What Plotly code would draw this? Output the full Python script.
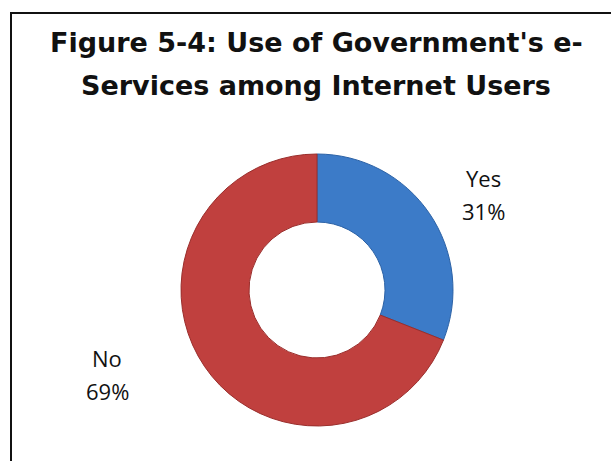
import plotly.graph_objects as go

# ---- data ----
categories = ["Yes", "No"]
values = [31, 69]
colors = ["#3C7BC8", "#C0403E"]
edge_colors = ["#2C62A6", "#9A2E2C"]
title_lines = ["Figure 5-4: Use of Government's e-", "Services among Internet Users"]

W, H = 611, 461
total = sum(values)
pcts = [f"{round(v / total * 100)}%" for v in values]

fig = go.Figure()
fig.add_trace(go.Pie(
    labels=categories,
    values=values,
    hole=0.5,
    sort=False,
    direction="clockwise",
    rotation=0,
    marker=dict(colors=colors, line=dict(color=edge_colors, width=1)),
    textinfo="none",
    hoverinfo="label+percent",
    showlegend=False,
    domain=dict(x=[181 / W, 453 / W], y=[1 - 426 / H, 1 - 154 / H]),
))

annotations = []
# title (two lines)
title_y = [42, 85]
for line, ty in zip(title_lines, title_y):
    annotations.append(dict(
        text=f"<b>{line}</b>", x=316 / W, y=1 - ty / H, xref="paper", yref="paper",
        xanchor="center", yanchor="middle", showarrow=False,
        font=dict(family="DejaVu Sans", size=27, color="#111111"),
    ))

# data labels
label_pos = {"Yes": (483, 178, 211), "No": (107, 358, 391)}
for cat, pct in zip(categories, pcts):
    lx, ly1, ly2 = label_pos[cat]
    for txt, ly in ((cat, ly1), (pct, ly2)):
        annotations.append(dict(
            text=txt, x=lx / W, y=1 - ly / H, xref="paper", yref="paper",
            xanchor="center", yanchor="middle", showarrow=False,
            font=dict(family="Open Sans", size=22, color="#111111"),
        ))

fig.update_layout(
    width=W, height=H,
    margin=dict(l=0, r=0, t=0, b=0),
    paper_bgcolor="white", plot_bgcolor="white",
    annotations=annotations,
    shapes=[dict(type="rect", xref="paper", yref="paper",
                 x0=11 / W, x1=1.05, y0=-0.05, y1=1 - 13 / H,
                 line=dict(color="#111111", width=2))],
)

fig.write_html("out.html", config={"displayModeBar": False},
               post_script="document.body.style.margin='0';")
